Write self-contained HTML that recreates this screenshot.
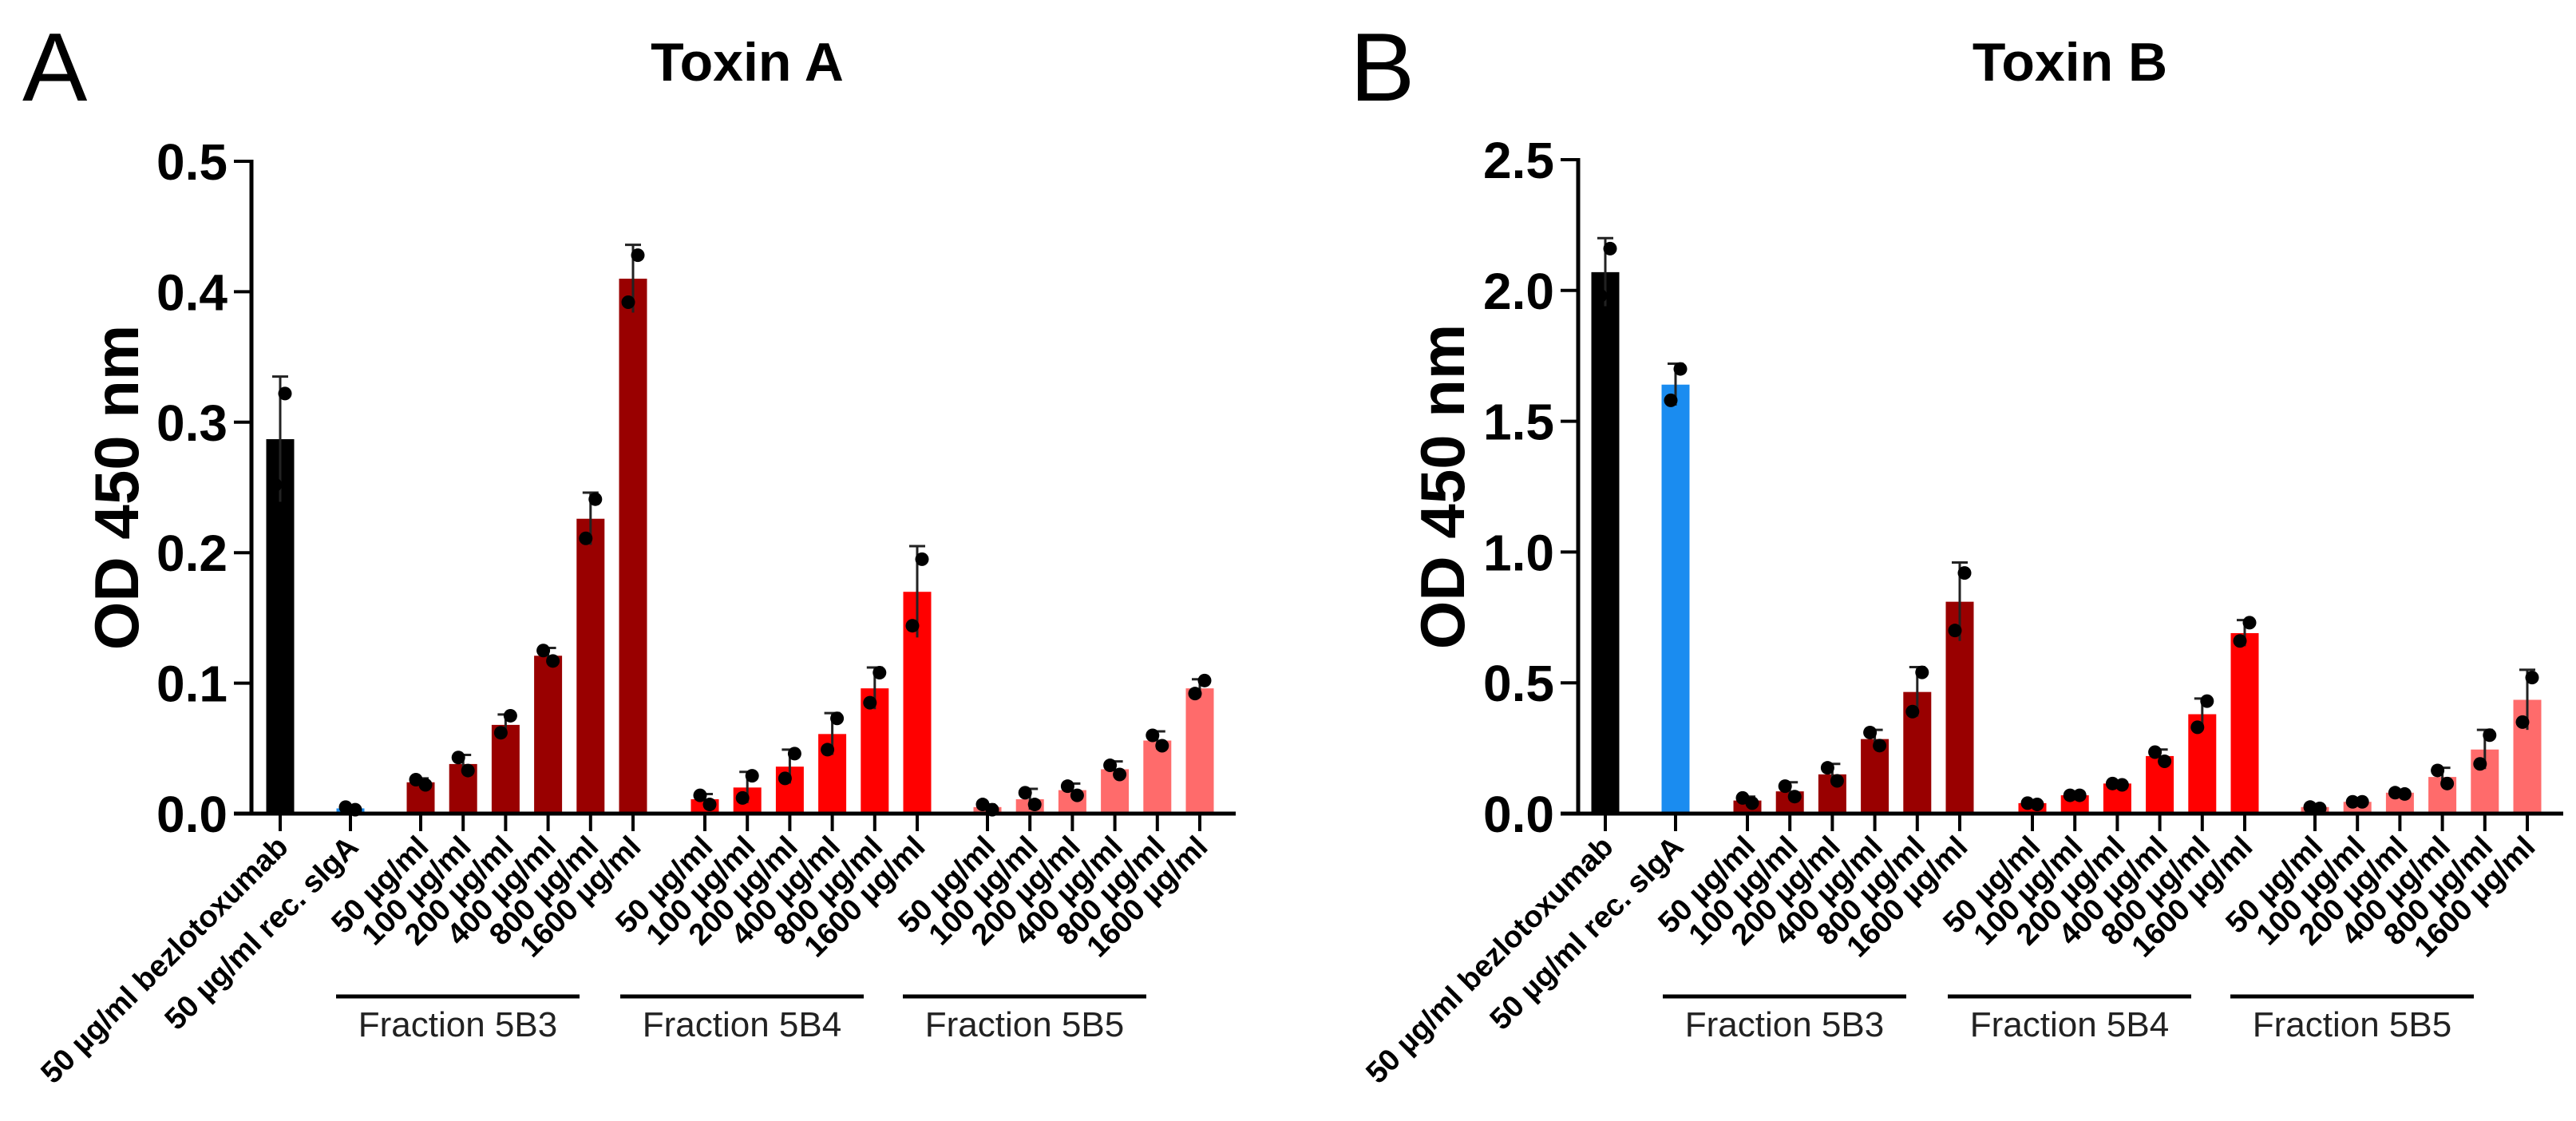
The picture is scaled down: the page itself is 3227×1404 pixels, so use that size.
<!DOCTYPE html>
<html><head><meta charset="utf-8"><style>
html,body{margin:0;padding:0;background:#fff}
svg{display:block}
text{font-family:"Liberation Sans",Arial,sans-serif}
</style></head><body>
<svg id="fig" width="3227" height="1404" viewBox="0 0 3227 1404" xmlns="http://www.w3.org/2000/svg"></svg>
<script>
const categories = ["50 µg/ml bezlotoxumab","50 µg/ml rec. sIgA",
 "50 µg/ml","100 µg/ml","200 µg/ml","400 µg/ml","800 µg/ml","1600 µg/ml",
 "50 µg/ml","100 µg/ml","200 µg/ml","400 µg/ml","800 µg/ml","1600 µg/ml",
 "50 µg/ml","100 µg/ml","200 µg/ml","400 µg/ml","800 µg/ml","1600 µg/ml"];
const groupLabels = ["Fraction 5B3","Fraction 5B4","Fraction 5B5"];
const ticksA = [0,0.1,0.2,0.3,0.4,0.5];
const tickLabelsA = ["0.0","0.1","0.2","0.3","0.4","0.5"];
const ticksB = [0,0.5,1.0,1.5,2.0,2.5];
const tickLabelsB = ["0.0","0.5","1.0","1.5","2.0","2.5"];
const valuesA = [0.287,0.004, 0.024,0.038,0.068,0.121,0.226,0.41, 0.011,0.02,0.036,0.061,0.096,0.17, 0.005,0.011,0.018,0.034,0.056,0.096];
const errTopA = [0.335,0.006, 0.027,0.045,0.076,0.127,0.246,0.436, 0.015,0.032,0.049,0.077,0.112,0.205, 0.007,0.019,0.023,0.04,0.063,0.103];
const dot1A = [0.322,0.003, 0.022,0.033,0.075,0.117,0.241,0.428, 0.007,0.029,0.046,0.073,0.108,0.195, 0.003,0.007,0.014,0.030,0.052,0.102];
const dot2A = [0.252,0.005, 0.026,0.043,0.062,0.125,0.211,0.392, 0.014,0.012,0.027,0.049,0.085,0.144, 0.007,0.016,0.021,0.037,0.060,0.092];
const valuesB = [2.07,1.64, 0.05,0.085,0.15,0.285,0.465,0.81, 0.04,0.07,0.115,0.22,0.38,0.69, 0.025,0.045,0.08,0.14,0.245,0.435];
const errTopB = [2.2,1.72, 0.065,0.12,0.19,0.32,0.56,0.96, 0.045,0.075,0.12,0.245,0.44,0.74, 0.03,0.05,0.085,0.175,0.32,0.55];
const dot1B = [2.16,1.70, 0.04,0.065,0.125,0.26,0.54,0.92, 0.035,0.07,0.11,0.2,0.43,0.73, 0.02,0.045,0.075,0.115,0.3,0.52];
const dot2B = [1.98,1.58, 0.06,0.105,0.175,0.31,0.39,0.70, 0.04,0.07,0.115,0.235,0.33,0.66, 0.025,0.045,0.08,0.165,0.19,0.35];
const colorsA = ["#000","#1a8cf0","#990000","#990000","#990000","#990000","#990000","#990000","#ff0000","#ff0000","#ff0000","#ff0000","#ff0000","#ff0000","#ff6b6b","#ff6b6b","#ff6b6b","#ff6b6b","#ff6b6b","#ff6b6b"];

const NS="http://www.w3.org/2000/svg";
const svg=document.getElementById('fig');
function mk(tag,attrs,parent,txt){const e=document.createElementNS(NS,tag);for(const k in attrs)e.setAttribute(k,attrs[k]);if(txt!==undefined)e.textContent=txt;(parent||svg).appendChild(e);return e;}

function panel(cfg){
  const g=mk('g',{});
  
  
  const y0=cfg.y0, yTop=cfg.yTop, ymax=cfg.ticks[cfg.ticks.length-1];
  const Y=v=>y0-(v/ymax)*(y0-yTop);
  const X=i=>i<2?cfg.firstX+i*88:cfg.groupStart[Math.floor((i-2)/6)]+((i-2)%6)*53.2;
  const letter=mk('text',{x:cfg.letterX,y:126,'font-size':122,fill:'#000'},g,cfg.letter);
  
  
  const t=mk('text',{x:cfg.titleX,y:101,'font-size':68,'font-weight':'bold','text-anchor':'middle'},g,cfg.title);
  
  
  const yt=mk('text',{x:0,y:0,'font-size':78,'font-weight':'bold','text-anchor':'middle',transform:`translate(${cfg.ytitleX},${(y0+yTop)/2}) rotate(-90)`},g,'OD 450 nm');
  
  
  for(let i=0;i<categories.length;i++){
    const x=X(i);
    const v=cfg.values[i], e=cfg.err[i];
    const r=mk('rect',{x:x-17.5,y:Y(v),width:35,height:y0-Y(v),fill:colorsA[i]},g);
    
    
    const lo=Math.max(0,2*v-e);
    const eb=mk('path',{d:`M${x},${Y(lo)}V${Y(e)}M${x-10},${Y(e)}H${x+10}`,stroke:'#222','stroke-width':3,fill:'none'},g);
    
    
    const d1=mk('circle',{cx:x+6,cy:Y(cfg.d1[i]),r:8.5,fill:'#000'},g);
    
    
    const d2=mk('circle',{cx:x-6,cy:Y(cfg.d2[i]),r:8.5,fill:'#000'},g);
    
    
    const tk=mk('line',{x1:x,x2:x,y1:y0,y2:y0+22,stroke:'#000','stroke-width':4},g);
    
    
    const lb=mk('text',{'font-size':38,'font-weight':'bold','text-anchor':'end',transform:`translate(${x+12},${y0+44}) rotate(-45)`},g,categories[i]);
    
    
  }
  const ya=mk('line',{x1:cfg.axisX,x2:cfg.axisX,y1:yTop-2,y2:y0+2,stroke:'#000','stroke-width':5},g);
  
  
  const xa=mk('line',{x1:cfg.axisX-22,x2:cfg.axisEnd,y1:y0,y2:y0,stroke:'#000','stroke-width':5},g);
  
  
  cfg.ticks.forEach((v,k)=>{
    const tk=mk('line',{x1:cfg.axisX-22,x2:cfg.axisX,y1:Y(v),y2:Y(v),stroke:'#000','stroke-width':4},g);
    
    
    const tl=mk('text',{x:cfg.axisX-30,y:Y(v)+23,'font-size':64,'font-weight':'bold','text-anchor':'end'},g,cfg.tickLabels[k]);
    
    
  });
  groupLabels.forEach((s,k)=>{
    const a=cfg.groupStart[k]-106, b=a+305;
    const gl=mk('line',{x1:a,x2:b,y1:1248,y2:1248,stroke:'#000','stroke-width':5},g);
    
    
    const gt=mk('text',{x:(a+b)/2,y:1298,'font-size':44,'text-anchor':'middle',fill:'#222'},g,s);
    
    
  });
}
panel({name:'toxin-a-panel',letter:'A',letterX:28,title:'Toxin A',titleX:936,ytitleX:173,axisX:315,axisEnd:1548,y0:1019,yTop:202,
  ticks:ticksA,tickLabels:tickLabelsA,values:valuesA,err:errTopA,d1:dot1A,d2:dot2A,firstX:351,groupStart:[527,883,1237]});
panel({name:'toxin-b-panel',letter:'B',letterX:1691,title:'Toxin B',titleX:2593,ytitleX:1834,axisX:1977,axisEnd:3211,y0:1019,yTop:200,
  ticks:ticksB,tickLabels:tickLabelsB,values:valuesB,err:errTopB,d1:dot1B,d2:dot2B,firstX:2011,groupStart:[2189,2546,2900]});
</script>
</body></html>
